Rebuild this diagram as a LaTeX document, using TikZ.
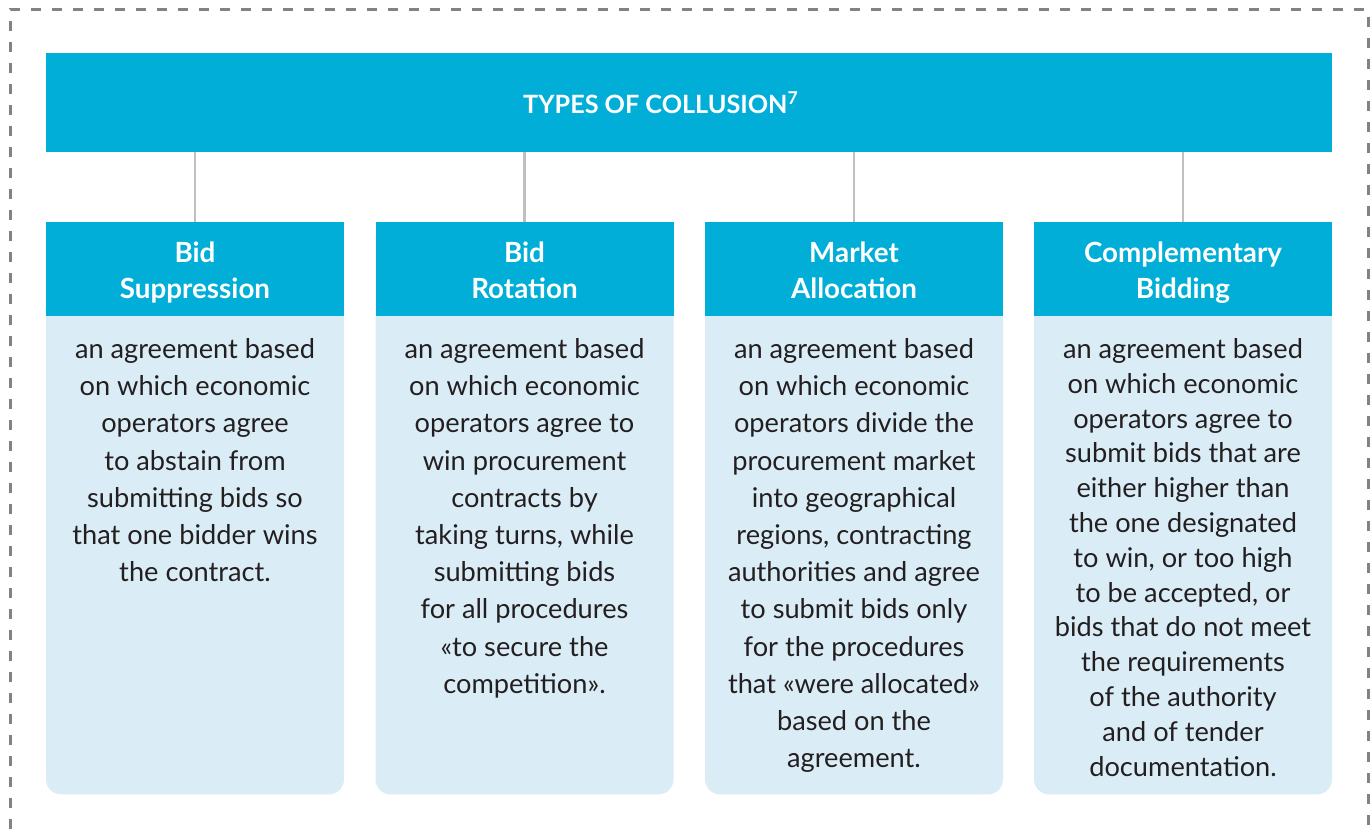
\documentclass[tikz,border=0pt]{standalone}
\usepackage{fontspec}
\setmainfont{Lato}
\usetikzlibrary{positioning}

\definecolor{cyanhead}{RGB}{0,174,216}
\definecolor{paleblue}{RGB}{218,237,247}
\definecolor{frame}{RGB}{128,130,133}
\definecolor{stem}{RGB}{192,192,192}
\definecolor{ink}{RGB}{35,31,32}

% strut that centres capitals in the header rows
\newcommand\hdstrut{\rule[-2pt]{0pt}{15.3pt}}

\tikzset{
    titlebox/.style={fill=cyanhead, text=white, font=\fontsize{12.6}{15}\selectfont\bfseries,
        minimum width=643pt, minimum height=49.5pt, inner sep=0pt},
    headbox/.style={fill=cyanhead, text=white, font=\fontsize{13.9}{18}\selectfont\bfseries,
        minimum width=149pt, minimum height=47pt, inner sep=0pt, align=center},
    bodybox/.style={fill=paleblue, rounded corners=7.5pt, minimum width=149pt,
        minimum height=286pt, inner sep=0pt},
    bodytext/.style={text=ink, font=\fontsize{13.6}{18.6}\selectfont, align=center, inner sep=0pt},
    stemline/.style={draw=stem, line width=1.3pt}
}

\begin{document}
\begin{tikzpicture}[x=0.5pt, y=-0.5pt]

    % Canvas and dashed frame
    \useasboundingbox (0,0) rectangle (1371,834);
    \draw[frame, line width=1.5pt, dash pattern=on 5pt off 5.5pt] (10,850) -- (10,10) -- (1368,10) -- (1368,850);

    % Title (its text sits a little left of centre)
    \node[titlebox] (title) at (689,102.5) {TYPES OF COLLUSION\textsuperscript{7}\hspace*{28pt}};

    % Column backgrounds
    \node[bodybox, anchor=north] (b1) at (195,222) {};
    \node[bodybox, anchor=north] (b2) at (524.5,222) {};
    \node[bodybox, anchor=north] (b3) at (854,222) {};
    \node[bodybox, anchor=north] (b4) at (1183,222) {};

    % Column headers
    \node[headbox, anchor=north] (h1) at (b1.north) {\hdstrut Bid\\\hdstrut Suppression};
    \node[headbox, anchor=north] (h2) at (b2.north) {\hdstrut Bid\\\hdstrut Rotation};
    \node[headbox, anchor=north] (h3) at (b3.north) {\hdstrut Market\\\hdstrut Allocation};
    \node[headbox, anchor=north] (h4) at (b4.north) {\hdstrut Complementary\\\hdstrut Bidding};

    % Stems from the title
    \draw[stemline] (title.south -| h1.north) -- (h1.north);
    \draw[stemline] (title.south -| h2.north) -- (h2.north);
    \draw[stemline] (title.south -| h3.north) -- (h3.north);
    \draw[stemline] (title.south -| h4.north) -- (h4.north);

    % Descriptions
    \node[bodytext, anchor=north] (t1) at (195,338) {an agreement based\\on which economic\\operators agree\\to abstain from\\submitting bids so\\that one bidder wins\\the contract.};
    \node[bodytext, anchor=north] (t2) at (524.5,338) {an agreement based\\on which economic\\operators agree to\\win procurement\\contracts by\\taking turns, while\\submitting bids\\for all procedures\\«to secure the\\competition».};
    \node[bodytext, anchor=north] (t3) at (854,338) {an agreement based\\on which economic\\operators divide the\\procurement market\\into geographical\\regions, contracting\\authorities and agree\\to submit bids only\\for the procedures\\that «were allocated»\\based on the\\agreement.};
    \node[bodytext, anchor=north, font=\fontsize{13.6}{17.4}\selectfont] (t4) at (1183,338) {an agreement based\\on which economic\\operators agree to\\submit bids that are\\either higher than\\the one designated\\to win, or too high\\to be accepted, or\\bids that do not meet\\the requirements\\of the authority\\and of tender\\documentation.};

\end{tikzpicture}
\end{document}
